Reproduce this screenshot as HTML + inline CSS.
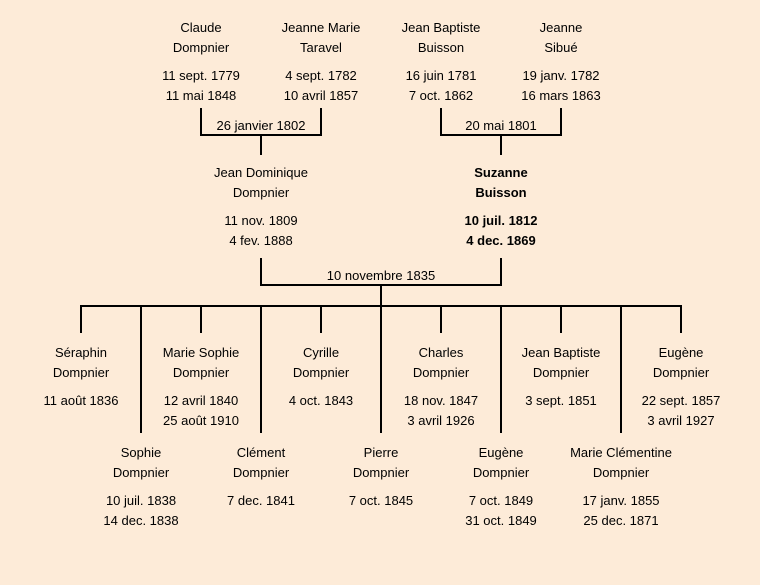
<!DOCTYPE html>
<html><head><meta charset="utf-8"><style>
html,body{margin:0;padding:0;background:#fdebd8;}
svg{display:block}
text{font-family:"Liberation Sans",sans-serif;font-size:13px;fill:#000;text-anchor:middle}
.b{font-weight:bold}
</style></head><body>
<svg width="760" height="585" viewBox="0 0 760 585">
<rect width="760" height="585" fill="#fdebd8"/>
<g stroke="#000" stroke-width="2" fill="none">
<path d="M201 108V135H321V108M261 135V155"/>
<path d="M441 108V135H561V108M501 135V155"/>
<path d="M261 258V285H501V258M381 285V306"/>
<path d="M80 306H682"/>
<path d="M81 306V333M201 306V333M321 306V333M441 306V333M561 306V333M681 306V333"/>
<path d="M141 306V433M261 306V433M381 306V433M501 306V433M621 306V433"/>
</g>
<g>
<text x="201" y="32">Claude</text><text x="201" y="52">Dompnier</text>
<text x="201" y="80">11 sept. 1779</text><text x="201" y="100">11 mai 1848</text>
<text x="321" y="32">Jeanne Marie</text><text x="321" y="52">Taravel</text>
<text x="321" y="80">4 sept. 1782</text><text x="321" y="100">10 avril 1857</text>
<text x="441" y="32">Jean Baptiste</text><text x="441" y="52">Buisson</text>
<text x="441" y="80">16 juin 1781</text><text x="441" y="100">7 oct. 1862</text>
<text x="561" y="32">Jeanne</text><text x="561" y="52">Sibué</text>
<text x="561" y="80">19 janv. 1782</text><text x="561" y="100">16 mars 1863</text>
<text x="261" y="130">26 janvier 1802</text>
<text x="501" y="130">20 mai 1801</text>
<text x="261" y="177">Jean Dominique</text><text x="261" y="197">Dompnier</text>
<text x="261" y="225">11 nov. 1809</text><text x="261" y="245">4 fev. 1888</text>
<text class="b" x="501" y="177">Suzanne</text><text class="b" x="501" y="197">Buisson</text>
<text class="b" x="501" y="225">10 juil. 1812</text><text class="b" x="501" y="245">4 dec. 1869</text>
<text x="381" y="280">10 novembre 1835</text>

<text x="81" y="357">Séraphin</text><text x="81" y="377">Dompnier</text><text x="81" y="405">11 août 1836</text>
<text x="201" y="357">Marie Sophie</text><text x="201" y="377">Dompnier</text><text x="201" y="405">12 avril 1840</text><text x="201" y="425">25 août 1910</text>
<text x="321" y="357">Cyrille</text><text x="321" y="377">Dompnier</text><text x="321" y="405">4 oct. 1843</text>
<text x="441" y="357">Charles</text><text x="441" y="377">Dompnier</text><text x="441" y="405">18 nov. 1847</text><text x="441" y="425">3 avril 1926</text>
<text x="561" y="357">Jean Baptiste</text><text x="561" y="377">Dompnier</text><text x="561" y="405">3 sept. 1851</text>
<text x="681" y="357">Eugène</text><text x="681" y="377">Dompnier</text><text x="681" y="405">22 sept. 1857</text><text x="681" y="425">3 avril 1927</text>

<text x="141" y="457">Sophie</text><text x="141" y="477">Dompnier</text><text x="141" y="505">10 juil. 1838</text><text x="141" y="525">14 dec. 1838</text>
<text x="261" y="457">Clément</text><text x="261" y="477">Dompnier</text><text x="261" y="505">7 dec. 1841</text>
<text x="381" y="457">Pierre</text><text x="381" y="477">Dompnier</text><text x="381" y="505">7 oct. 1845</text>
<text x="501" y="457">Eugène</text><text x="501" y="477">Dompnier</text><text x="501" y="505">7 oct. 1849</text><text x="501" y="525">31 oct. 1849</text>
<text x="621" y="457">Marie Clémentine</text><text x="621" y="477">Dompnier</text><text x="621" y="505">17 janv. 1855</text><text x="621" y="525">25 dec. 1871</text>
</g>
</svg>
</body></html>
